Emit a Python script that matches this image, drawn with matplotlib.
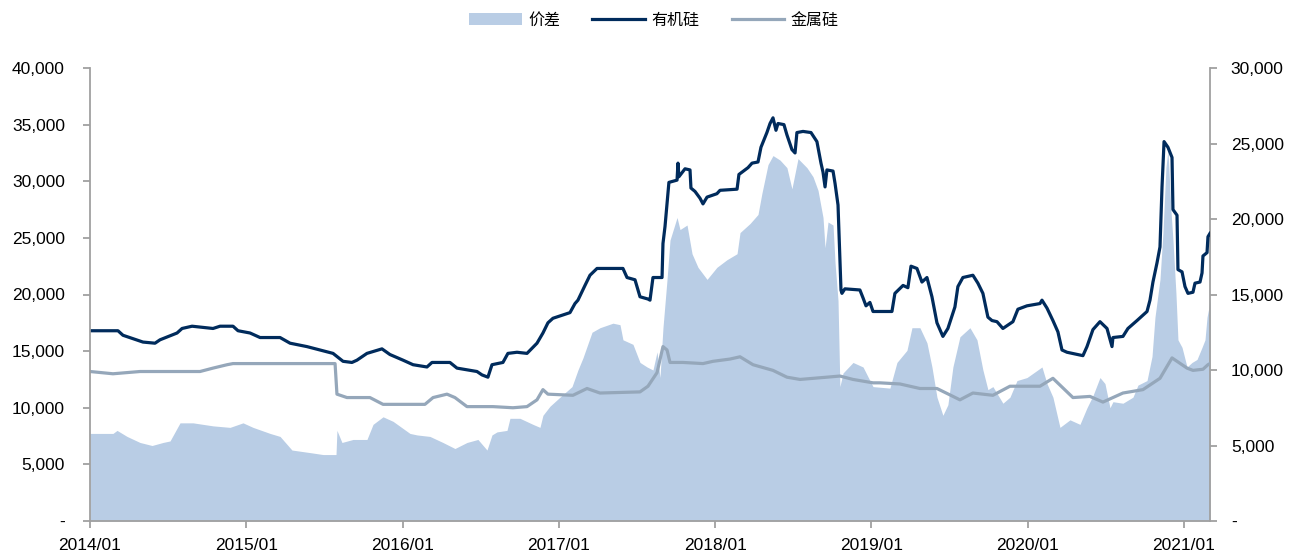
import matplotlib
matplotlib.use('Agg')
import matplotlib.pyplot as plt
from matplotlib.ticker import FuncFormatter, MultipleLocator
from matplotlib.patches import Patch
from matplotlib.lines import Line2D

plt.rcParams['font.family'] = ['Liberation Sans', 'Noto Sans CJK SC', 'DejaVu Sans']

# time in decimal years, values in RMB/t
# 有机硅 (left axis)
dmc_t = [2014.000, 2014.179, 2014.211, 2014.339, 2014.416, 2014.448, 2014.557, 2014.589,
         2014.653, 2014.787, 2014.832, 2014.915, 2014.947, 2015.024, 2015.088, 2015.216,
         2015.280, 2015.388, 2015.472, 2015.555, 2015.619, 2015.676, 2015.708, 2015.772,
         2015.868, 2015.919, 2016.003, 2016.067, 2016.156, 2016.188, 2016.303, 2016.348,
         2016.476, 2016.508, 2016.546, 2016.572, 2016.642, 2016.674, 2016.732, 2016.796,
         2016.860, 2016.898, 2016.930, 2016.962, 2017.071, 2017.103, 2017.122, 2017.167,
         2017.199, 2017.244, 2017.410, 2017.436, 2017.487, 2017.506, 2017.519, 2017.570,
         2017.583, 2017.602, 2017.660, 2017.666, 2017.679, 2017.704, 2017.756, 2017.762,
         2017.768, 2017.807, 2017.839, 2017.845, 2017.871, 2017.903, 2017.922, 2017.948,
         2018.011, 2018.031, 2018.140, 2018.152, 2018.210, 2018.236, 2018.274, 2018.293,
         2018.331, 2018.351, 2018.370, 2018.389, 2018.402, 2018.440, 2018.459, 2018.491,
         2018.511, 2018.523, 2018.562, 2018.613, 2018.651, 2018.677, 2018.690, 2018.703,
         2018.715, 2018.754, 2018.767, 2018.786, 2018.805, 2018.811, 2018.830, 2018.926,
         2018.946, 2018.965, 2018.990, 2019.010, 2019.131, 2019.150, 2019.202, 2019.233,
         2019.253, 2019.291, 2019.323, 2019.355, 2019.387, 2019.419, 2019.457, 2019.489,
         2019.534, 2019.553, 2019.585, 2019.649, 2019.681, 2019.713, 2019.745, 2019.771,
         2019.803, 2019.841, 2019.905, 2019.937, 2019.995, 2020.078, 2020.091, 2020.123,
         2020.161, 2020.193, 2020.219, 2020.251, 2020.353, 2020.379, 2020.417, 2020.462,
         2020.507, 2020.539, 2020.545, 2020.609, 2020.641, 2020.699, 2020.763, 2020.782,
         2020.801, 2020.827, 2020.846, 2020.859, 2020.872, 2020.897, 2020.923, 2020.929,
         2020.955, 2020.961, 2020.987, 2021.006, 2021.025, 2021.057, 2021.070, 2021.102,
         2021.115, 2021.121, 2021.147, 2021.153, 2021.166]
dmc_v = [16800, 16800, 16400, 15800, 15700, 16000, 16600, 17000,
         17200, 17000, 17200, 17200, 16800, 16600, 16200, 16200,
         15700, 15400, 15100, 14800, 14100, 14000, 14200, 14800,
         15200, 14700, 14200, 13800, 13600, 14000, 14000, 13500,
         13200, 12900, 12700, 13800, 14000, 14800, 14900, 14800,
         15700, 16600, 17500, 17900, 18400, 19200, 19500, 20800,
         21700, 22300, 22300, 21500, 21300, 20400, 19800, 19600,
         19500, 21500, 21500, 24500, 26000, 29900, 30100, 31600,
         30400, 31100, 31000, 29400, 29100, 28500, 28000, 28600,
         28900, 29200, 29300, 30600, 31200, 31600, 31700, 33000,
         34300, 35100, 35600, 34500, 35100, 35000, 34100, 32800,
         32500, 34300, 34400, 34300, 33500, 31600, 30800, 29500,
         31000, 30900, 29800, 27900, 20400, 20100, 20500, 20400,
         19700, 19000, 19300, 18500, 18500, 20100, 20800, 20600,
         22500, 22300, 21100, 21500, 19800, 17500, 16300, 17000,
         18900, 20700, 21500, 21700, 21000, 20100, 18000, 17700,
         17600, 17000, 17600, 18700, 19000, 19200, 19500, 18800,
         17700, 16700, 15100, 14900, 14600, 15400, 16900, 17600,
         17000, 15400, 16200, 16300, 17000, 17700, 18500, 19500,
         21100, 22800, 24200, 29500, 33500, 33000, 32100, 27500,
         27000, 22200, 22000, 20700, 20100, 20200, 21000, 21100,
         21900, 23400, 23700, 25100, 25400]

# 金属硅 (left axis)
si_t = [2014.000, 2014.147, 2014.320, 2014.467, 2014.704, 2014.787, 2014.877, 2014.915,
        2015.568, 2015.580, 2015.644, 2015.791, 2015.875, 2016.047, 2016.143, 2016.195,
        2016.284, 2016.335, 2016.412, 2016.578, 2016.706, 2016.796, 2016.860, 2016.898,
        2016.930, 2017.090, 2017.180, 2017.263, 2017.519, 2017.570, 2017.628, 2017.666,
        2017.692, 2017.711, 2017.794, 2017.922, 2017.986, 2018.095, 2018.159, 2018.242,
        2018.370, 2018.459, 2018.543, 2018.715, 2018.798, 2018.882, 2019.010, 2019.054,
        2019.182, 2019.310, 2019.419, 2019.566, 2019.649, 2019.777, 2019.886, 2020.078,
        2020.161, 2020.289, 2020.398, 2020.481, 2020.609, 2020.737, 2020.846, 2020.923,
        2021.019, 2021.057, 2021.121, 2021.153, 2021.166]
si_v = [13200, 13000, 13200, 13200, 13200, 13500, 13800, 13900,
        13900, 11200, 10900, 10900, 10300, 10300, 10300, 10900,
        11200, 10900, 10100, 10100, 10000, 10100, 10700, 11600,
        11200, 11100, 11700, 11300, 11400, 11900, 13100, 15400,
        15100, 14000, 14000, 13900, 14100, 14300, 14500, 13800,
        13300, 12700, 12500, 12700, 12800, 12500, 12200, 12200,
        12100, 11700, 11700, 10700, 11300, 11100, 11900, 11900,
        12600, 10900, 11000, 10500, 11300, 11600, 12600, 14400,
        13500, 13300, 13400, 13800, 13900]

# 价差 (right axis)
spread_t = [2014.000, 2014.147, 2014.173, 2014.237, 2014.320, 2014.397, 2014.467, 2014.512,
            2014.576, 2014.659, 2014.787, 2014.896, 2014.979, 2015.043, 2015.152, 2015.216,
            2015.292, 2015.427, 2015.491, 2015.555, 2015.574, 2015.580, 2015.612, 2015.683,
            2015.772, 2015.811, 2015.875, 2015.939, 2016.047, 2016.092, 2016.175, 2016.258,
            2016.335, 2016.412, 2016.482, 2016.540, 2016.572, 2016.604, 2016.668, 2016.687,
            2016.751, 2016.834, 2016.879, 2016.898, 2016.943, 2017.007, 2017.084, 2017.122,
            2017.154, 2017.212, 2017.263, 2017.346, 2017.391, 2017.410, 2017.474, 2017.519,
            2017.564, 2017.602, 2017.628, 2017.647, 2017.666, 2017.692, 2017.711, 2017.756,
            2017.775, 2017.820, 2017.852, 2017.890, 2017.948, 2018.011, 2018.075, 2018.140,
            2018.159, 2018.223, 2018.274, 2018.299, 2018.338, 2018.370, 2018.415, 2018.459,
            2018.491, 2018.530, 2018.587, 2018.626, 2018.658, 2018.690, 2018.703, 2018.722,
            2018.754, 2018.767, 2018.786, 2018.798, 2018.818, 2018.882, 2018.946, 2018.990,
            2019.010, 2019.118, 2019.163, 2019.227, 2019.259, 2019.310, 2019.355, 2019.387,
            2019.419, 2019.457, 2019.489, 2019.521, 2019.566, 2019.630, 2019.675, 2019.713,
            2019.745, 2019.777, 2019.841, 2019.886, 2019.931, 2019.995, 2020.091, 2020.123,
            2020.161, 2020.206, 2020.270, 2020.334, 2020.379, 2020.417, 2020.462, 2020.494,
            2020.526, 2020.545, 2020.609, 2020.673, 2020.705, 2020.763, 2020.795, 2020.814,
            2020.846, 2020.865, 2020.884, 2020.897, 2020.916, 2020.929, 2020.948, 2020.961,
            2020.987, 2021.019, 2021.051, 2021.083, 2021.115, 2021.134, 2021.147, 2021.160,
            2021.166]
spread_v = [5800, 5800, 6000, 5600, 5200, 5000, 5200, 5300,
            6500, 6500, 6300, 6200, 6500, 6200, 5800, 5600,
            4700, 4500, 4400, 4400, 4400, 6000, 5200, 5400,
            5400, 6400, 6900, 6600, 5800, 5700, 5600, 5200,
            4800, 5200, 5400, 4700, 5700, 5900, 6000, 6800,
            6800, 6400, 6200, 7000, 7600, 8200, 8900, 10000,
            10800, 12500, 12800, 13100, 13000, 12000, 11700, 10500,
            10200, 10000, 11200, 9500, 12800, 16000, 18600, 20100,
            19300, 19600, 17700, 16800, 16000, 16800, 17300, 17700,
            19100, 19700, 20300, 21700, 23600, 24200, 23900, 23400,
            22000, 24000, 23400, 22800, 21900, 20100, 18100, 19800,
            19600, 17100, 14600, 8900, 9800, 10500, 10200, 9300,
            8900, 8800, 10500, 11300, 12800, 12800, 11800, 10200,
            8200, 7000, 7700, 10200, 12200, 12800, 12000, 10000,
            8700, 8900, 7800, 8200, 9300, 9500, 10200, 9100,
            8200, 6200, 6700, 6400, 7500, 8300, 9500, 9100,
            7500, 7900, 7800, 8200, 9000, 9300, 10900, 13500,
            16000, 19100, 23400, 24600, 20600, 18600, 15100, 12000,
            11500, 10200, 10500, 10700, 11500, 12000, 13500, 14200,
            14600]

years = list(range(2014, 2022))
year_labels = [f'{y}/01' for y in years]

fig = plt.figure(figsize=(12.9, 5.51), dpi=100)
ax = fig.add_axes([90 / 1290, 30 / 551, 1120 / 1290, 453 / 551])
ax2 = ax.twinx()
ax.set_zorder(ax2.get_zorder() + 1)
ax.patch.set_visible(False)

area_color = '#B9CDE5'
dmc_color = '#002B5C'
si_color = '#95A7BA'

ax2.fill_between(spread_t, spread_v, 0, color=area_color, lw=0)
ax.plot(dmc_t, dmc_v, color=dmc_color, lw=2.3)
ax.plot(si_t, si_v, color=si_color, lw=2.3)

ax.set_xlim(2014.0, 2021.166)
ax.set_ylim(0, 40000)
ax2.set_ylim(0, 30000)
ax.yaxis.set_major_locator(MultipleLocator(5000))
ax2.yaxis.set_major_locator(MultipleLocator(5000))

def fmt(v, pos):
    return '-' if v == 0 else f'{int(v):,}'

ax.yaxis.set_major_formatter(FuncFormatter(fmt))
ax2.yaxis.set_major_formatter(FuncFormatter(fmt))
ax.set_xticks(years)
ax.set_xticklabels(year_labels)

spine_c = '#A0A0A0'
for a in (ax, ax2):
    a.spines['top'].set_visible(False)
    for s in ('left', 'right', 'bottom'):
        a.spines[s].set_color(spine_c)
        a.spines[s].set_linewidth(1.3)
    a.tick_params(axis='both', colors=spine_c, length=5, width=1.3, labelsize=12.5,
                  labelcolor='black')
ax.spines['right'].set_visible(False)
ax2.spines['left'].set_visible(False)
ax2.spines['bottom'].set_visible(False)
ax.tick_params(axis='y', pad=13)
ax2.tick_params(axis='y', pad=10)
ax.tick_params(axis='x', pad=7)

handles = [Patch(facecolor=area_color, edgecolor='none'),
           Line2D([], [], color=dmc_color, lw=2.3),
           Line2D([], [], color=si_color, lw=2.3)]
fig.legend(handles, ['价差', '有机硅', '金属硅'], loc='center', bbox_to_anchor=(0.507, 1 - 20 / 551),
           ncol=3, frameon=False, handlelength=3.3, handletextpad=0.4, columnspacing=2.0,
           prop={'family': ['Noto Sans CJK SC', 'DejaVu Sans'], 'size': 11.5})

fig.savefig('out.png', dpi=100)
